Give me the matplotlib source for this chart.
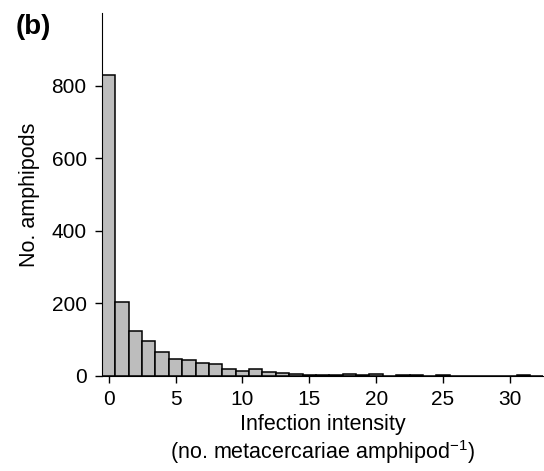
import matplotlib
matplotlib.use("Agg")
import matplotlib.pyplot as plt

intensity = list(range(0, 33))
counts = [829, 204, 125, 96, 67, 46, 43, 36, 32, 18, 15, 19, 10, 8, 6, 4, 3, 4,
          6, 3, 6, 1, 3, 3, 1, 2, 1, 0, 0, 0, 0, 2, 0]
xticks = [0, 5, 10, 15, 20, 25, 30]
yticks = [0, 200, 400, 600, 800]

plt.rcParams['font.family'] = ['Liberation Sans', 'DejaVu Sans']

fig = plt.figure(figsize=(5.44, 4.71), dpi=100)
ax = fig.add_axes([0.1875, 0.2017, 0.8125, 0.7707])
ax.bar(intensity, counts, width=1.0, color='#bdbdbd', edgecolor='black', linewidth=1.1)
ax.set_xlim(-0.5, 32.55)
ax.set_ylim(0, 1000)
ax.set_xticks(xticks)
ax.set_yticks(yticks)
ax.spines['top'].set_visible(False)
ax.spines['right'].set_visible(False)
ax.tick_params(axis='both', labelsize=15, length=5, width=1, direction='out', pad=6)
ax.tick_params(axis='x', pad=5)
ax.set_ylabel('No. amphipods', fontsize=15.5, labelpad=8)
ax.set_xlabel('Infection intensity\n(no. metacercariae amphipod$^{\\mathregular{-1}}$)',
              fontsize=15.5, labelpad=4, linespacing=1.15)
fig.text(0.029, 0.943, '(b)', fontsize=20, fontweight='bold', va='center')
fig.savefig('out.png', dpi=100)
